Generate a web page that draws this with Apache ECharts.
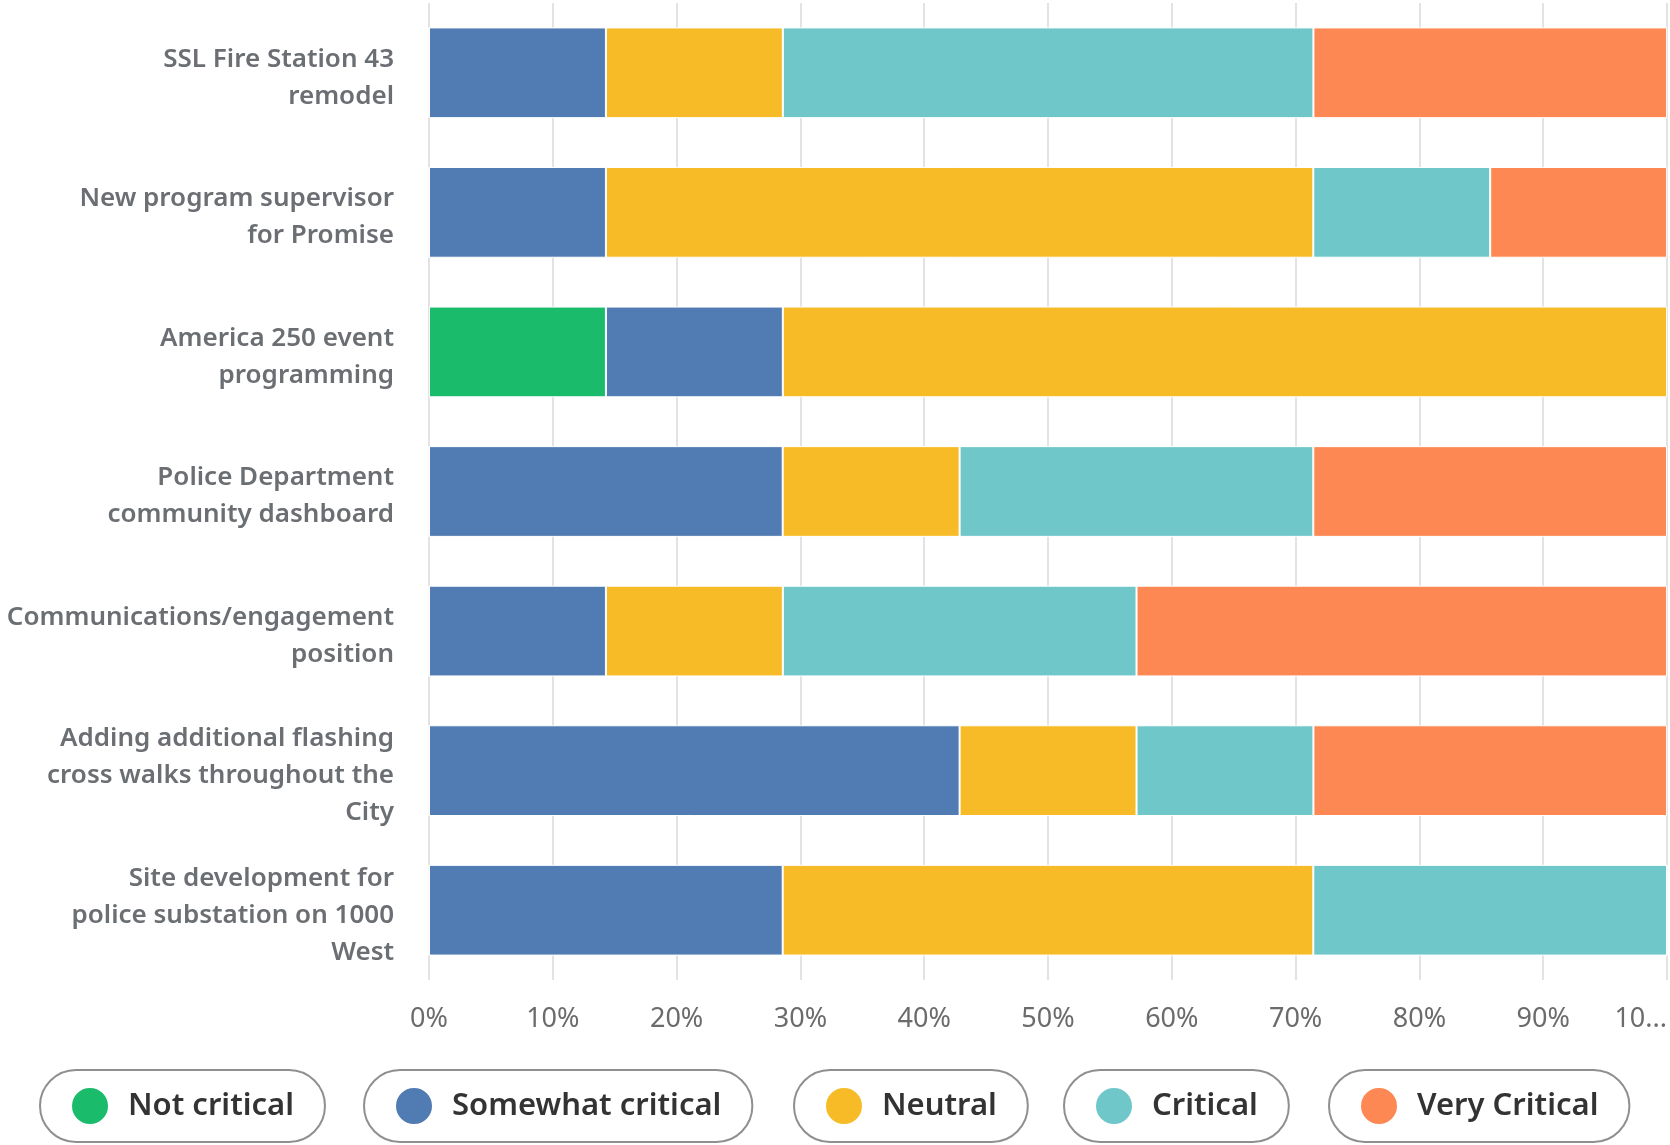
<!DOCTYPE html>
<html>
<head>
<meta charset="utf-8">
<script src="https://cdn.jsdelivr.net/npm/echarts@6/dist/echarts.min.js"></script>
<style>
html,body{margin:0;padding:0;background:#fff;}
#chart{width:1670px;height:1145px;}
</style>
</head>
<body>
<div id="chart"></div>
<script>
// Categories (display labels, wrapped as in the reference)
const categories = [
  'SSL Fire Station 43\nremodel',
  'New program supervisor\nfor Promise',
  'America 250 event\nprogramming',
  'Police Department\ncommunity dashboard',
  'Communications/engagement\nposition',
  'Adding additional flashing\ncross walks throughout the\nCity',
  'Site development for\npolice substation on 1000\nWest'
];
const seriesNames = ['Not critical', 'Somewhat critical', 'Neutral', 'Critical', 'Very Critical'];
// Percentages per category
const notCritical      = [0,     0,     14.29, 0,     0,     0,     0];
const somewhatCritical = [14.29, 14.29, 14.29, 28.57, 14.29, 42.86, 28.57];
const neutral          = [14.29, 57.14, 71.43, 14.29, 14.29, 14.29, 42.86];
const critical         = [42.86, 14.29, 0,     28.57, 28.57, 14.29, 28.57];
const veryCritical     = [28.57, 14.29, 0,     28.57, 42.86, 28.57, 0];
const xTickLabels = ['0%','10%','20%','30%','40%','50%','60%','70%','80%','90%','10...'];

const colors = ['#1abc6c', '#507bb3', '#f6bb26', '#6fc7c9', '#fd8853'];
const seriesData = [notCritical, somewhatCritical, neutral, critical, veryCritical];

const chart = echarts.init(document.getElementById('chart'), null, {renderer: 'canvas'});

const legendLefts = [40, 364, 794, 1064, 1329];
const legends = seriesNames.map((n, i) => ({
  data: [n],
  left: legendLefts[i],
  top: 1070,
  orient: 'horizontal',
  icon: 'circle',
  itemWidth: 38,
  itemHeight: 38,
  itemGap: 0,
  padding: [16, 31, 16, 30],
  borderColor: '#8f8f8f',
  borderWidth: 2,
  borderRadius: 37,
  backgroundColor: '#fff',
  selectedMode: false,
  textStyle: {
    fontFamily: 'Noto Sans',
    fontSize: 31,
    fontWeight: 600,
    color: '#333',
    padding: [0, 0, 0, 14]
  }
}));

const option = {
  backgroundColor: '#fff',
  animation: false,
  color: colors,
  legend: legends,
  grid: {left: 429, right: 2, top: 3, bottom: 165},
  xAxis: {
    type: 'value',
    min: 0,
    max: 100,
    interval: 10,
    axisLine: {show: false},
    axisTick: {show: false},
    splitLine: {show: true, lineStyle: {color: '#e3e3e3', width: 2}},
    axisLabel: {
      margin: 26,
      fontFamily: 'Noto Sans',
      fontSize: 27,
      color: '#6b6b6b',
      alignMaxLabel: 'right',
      formatter: function (v) { return xTickLabels[Math.round(v / 10)]; }
    }
  },
  yAxis: {
    type: 'category',
    data: categories,
    inverse: true,
    axisLine: {show: false},
    axisTick: {show: false},
    splitLine: {show: false},
    axisLabel: {
      margin: 35,
      fontFamily: 'Noto Sans',
      fontSize: 26,
      fontWeight: 600,
      lineHeight: 37,
      color: '#6b6e72',
      align: 'right',
      formatter: function (v) { return '{s| }\n' + v; },
      rich: {
        s: {fontSize: 2, lineHeight: 10, height: 10}
      }
    }
  },
  series: seriesNames.map((n, i) => ({
    name: n,
    type: 'bar',
    stack: 'total',
    barWidth: '65%',
    data: seriesData[i],
    itemStyle: {borderColor: '#fff', borderWidth: 1},
    emphasis: {disabled: true}
  }))
};
chart.setOption(option);
</script>
</body>
</html>
